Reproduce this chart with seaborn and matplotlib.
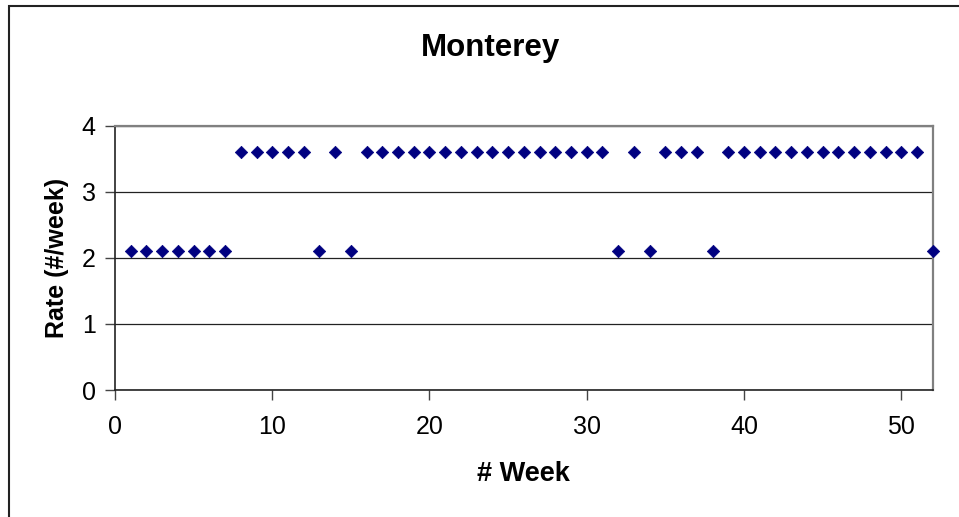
import matplotlib
matplotlib.use("Agg")
import matplotlib.pyplot as plt
import seaborn as sns
import pandas as pd
from matplotlib.patches import Rectangle

# Weekly rate for Monterey
weeks = list(range(1, 53))
rates = [2.1, 2.1, 2.1, 2.1, 2.1, 2.1, 2.1,
         3.6, 3.6, 3.6, 3.6, 3.6,
         2.1, 3.6, 2.1,
         3.6, 3.6, 3.6, 3.6, 3.6, 3.6, 3.6, 3.6, 3.6, 3.6,
         3.6, 3.6, 3.6, 3.6, 3.6, 3.6,
         2.1, 3.6, 2.1, 3.6, 3.6, 3.6, 2.1,
         3.6, 3.6, 3.6, 3.6, 3.6, 3.6, 3.6, 3.6, 3.6, 3.6, 3.6, 3.6, 3.6,
         2.1]
x_ticks = [0, 10, 20, 30, 40, 50]
y_ticks = [0, 1, 2, 3, 4]

df = pd.DataFrame({"week": weeks, "rate": rates})

sns.set_theme(style="white")
plt.rcParams["font.family"] = ["Liberation Sans", "DejaVu Sans"]
plt.rcParams["text.color"] = "black"
plt.rcParams["axes.labelcolor"] = "black"

fig = plt.figure(figsize=(9.59, 5.17), dpi=100)
ax = fig.add_axes([0.1199, 0.2456, 0.8527, 0.5113])

sns.scatterplot(data=df, x="week", y="rate", ax=ax, marker="D", s=40,
                color="#000080", edgecolor="#000080", linewidth=0.5,
                clip_on=False, zorder=3, legend=False)

ax.set_xlim(0, 52)
ax.set_ylim(0, 4)
ax.set_xticks(x_ticks)
ax.set_yticks(y_ticks)
ax.yaxis.grid(True, color="#222222", linewidth=0.9)
ax.xaxis.grid(False)
ax.set_axisbelow(True)

for side in ("left", "bottom"):
    ax.spines[side].set_color("#222222")
    ax.spines[side].set_linewidth(1.2)
for side in ("top", "right"):
    ax.spines[side].set_color("#808080")
    ax.spines[side].set_linewidth(1.6)

ax.tick_params(axis="both", which="major", direction="out", length=7, width=1,
               color="#444444", labelsize=18, labelcolor="black",
               bottom=True, left=True)
ax.tick_params(axis="x", pad=11)
ax.tick_params(axis="y", pad=7)

ax.set_xlabel("# Week", fontsize=19.5, fontweight="bold", labelpad=16)
ax.set_ylabel("Rate (#/week)", fontsize=18, fontweight="bold", labelpad=9)
fig.text(0.511, 0.908, "Monterey", ha="center", va="center",
         fontsize=22.5, fontweight="bold")

# Chart area frame
fig.patches.append(Rectangle((8.5 / 959, -0.1), 1.2, (517 - 5.7) / 517 + 0.1,
                             transform=fig.transFigure, fill=False,
                             edgecolor="#222222", linewidth=1.5))

fig.savefig("out.png", dpi=100)
